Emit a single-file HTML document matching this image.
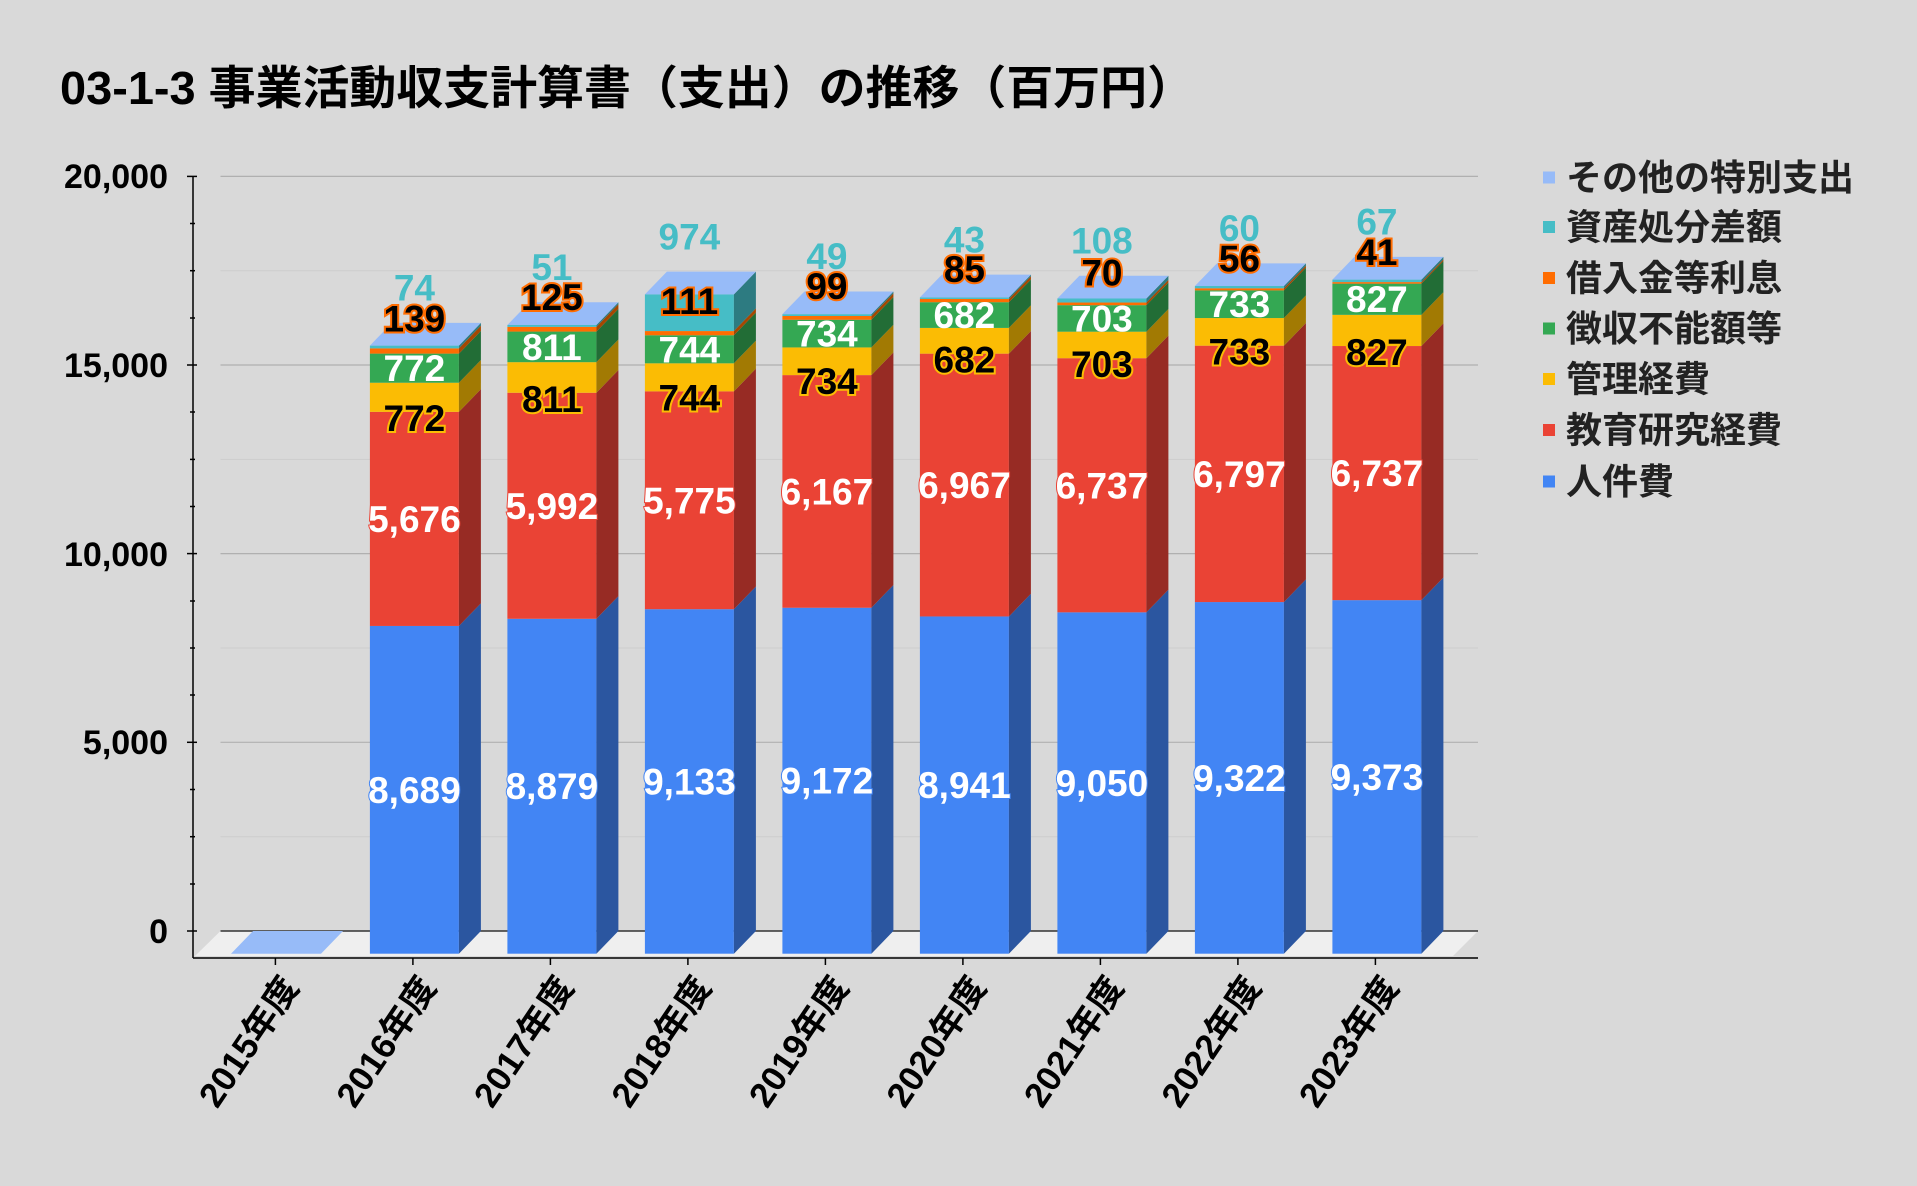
<!DOCTYPE html>
<html><head><meta charset="utf-8"><style>
html,body{margin:0;padding:0;background:#d9d9d9;}
svg{display:block;font-family:"Liberation Sans","Noto Sans CJK JP",sans-serif;font-weight:bold;}
.v{font-size:37px;text-anchor:middle;}
.w{fill:#fff;}
.bl{fill:#fff;stroke:#4285f4;stroke-width:2;paint-order:stroke;}
.rd{fill:#fff;stroke:#ea4335;stroke-width:2;paint-order:stroke;}
.yl{fill:#000;stroke:#fbbc04;stroke-width:4;paint-order:stroke;}
.or{fill:#000;stroke:#ff6d01;stroke-width:4;paint-order:stroke;}
.tl{fill:#46bdc6;}
.yx{font-size:34px;text-anchor:end;fill:#000;}
.xl{font-size:35px;text-anchor:end;fill:#000;}
.lg{font-size:36px;fill:#222;font-family:"Liberation Sans","Noto Sans CJK JP",sans-serif;}
</style></head><body>
<svg width="1917" height="1186" viewBox="0 0 1917 1186" xmlns="http://www.w3.org/2000/svg">
<text x="60" y="104" font-size="46" fill="#000" textLength="1134" lengthAdjust="spacingAndGlyphs">03-1-3 事業活動収支計算書（支出）の推移（百万円）</text>

<polygon points="195,956 220.5,931 1478,931 1453,956" fill="#efefef"/>
<g stroke="#cdcdcd" stroke-width="1">
<line x1="220.5" y1="836.7" x2="1478" y2="836.7"/><line x1="220.5" y1="648" x2="1478" y2="648"/>
<line x1="220.5" y1="459.4" x2="1478" y2="459.4"/><line x1="220.5" y1="270.7" x2="1478" y2="270.7"/>
</g>
<g stroke="#b0b0b0" stroke-width="1.2">
<line x1="220.5" y1="176.4" x2="1478" y2="176.4"/><line x1="220.5" y1="365" x2="1478" y2="365"/>
<line x1="220.5" y1="553.6" x2="1478" y2="553.6"/><line x1="220.5" y1="742.3" x2="1478" y2="742.3"/>
</g>
<line x1="220.5" y1="931" x2="1478" y2="931" stroke="#333" stroke-width="1.5"/>
<g stroke="#000" stroke-width="1.5">
<line x1="193" y1="176" x2="193" y2="958"/>
<line x1="187" y1="176.4" x2="197" y2="176.4"/><line x1="187" y1="365" x2="197" y2="365"/>
<line x1="187" y1="553.6" x2="197" y2="553.6"/><line x1="187" y1="742.3" x2="197" y2="742.3"/>
<line x1="187" y1="931" x2="197" y2="931"/>
<line x1="190" y1="270.7" x2="195" y2="270.7"/><line x1="190" y1="459.4" x2="195" y2="459.4"/>
<line x1="190" y1="648" x2="195" y2="648"/><line x1="190" y1="836.7" x2="195" y2="836.7"/>
<line x1="190" y1="223.5" x2="195" y2="223.5"/><line x1="190" y1="318" x2="195" y2="318"/>
<line x1="190" y1="412" x2="195" y2="412"/><line x1="190" y1="506.5" x2="195" y2="506.5"/>
<line x1="190" y1="601" x2="195" y2="601"/><line x1="190" y1="695" x2="195" y2="695"/>
<line x1="190" y1="789.5" x2="195" y2="789.5"/><line x1="190" y1="884" x2="195" y2="884"/>
<line x1="193" y1="958" x2="1478" y2="958"/>
<line x1="275.4" y1="958" x2="275.4" y2="965"/><line x1="412.9" y1="958" x2="412.9" y2="965"/>
<line x1="550.4" y1="958" x2="550.4" y2="965"/><line x1="687.9" y1="958" x2="687.9" y2="965"/>
<line x1="825.4" y1="958" x2="825.4" y2="965"/><line x1="962.9" y1="958" x2="962.9" y2="965"/>
<line x1="1100.4" y1="958" x2="1100.4" y2="965"/><line x1="1237.9" y1="958" x2="1237.9" y2="965"/>
<line x1="1375.4" y1="958" x2="1375.4" y2="965"/>
</g>
<text class="yx" x="168" y="188">20,000</text>
<text class="yx" x="168" y="377">15,000</text>
<text class="yx" x="168" y="566">10,000</text>
<text class="yx" x="168" y="754">5,000</text>
<text class="yx" x="168" y="943">0</text>

<polygon points="231,953.7 321,953.7 343,931 253,931" fill="#97bbf8"/>

<g transform="translate(369.9,953.7)">
<rect x="0" y="-327.75" width="89" height="327.75" fill="#4285f4"/><polygon points="89,0 111,-22.7 111,-350.45 89,-327.75" fill="#2b56a0"/>
<rect x="0" y="-541.85" width="89" height="214.1" fill="#ea4335"/><polygon points="89,-327.75 111,-350.45 111,-564.55 89,-541.85" fill="#972b24"/>
<rect x="0" y="-570.97" width="89" height="29.12" fill="#fbbc04"/><polygon points="89,-541.85 111,-564.55 111,-593.67 89,-570.97" fill="#a27a03"/>
<rect x="0" y="-600.09" width="89" height="29.12" fill="#34a853"/><polygon points="89,-570.97 111,-593.67 111,-622.79 89,-600.09" fill="#226d36"/>
<rect x="0" y="-605.33" width="89" height="5.24" fill="#ff6d01"/><polygon points="89,-600.09 111,-622.79 111,-628.03 89,-605.33" fill="#a54701"/>
<rect x="0" y="-608.12" width="89" height="2.79" fill="#46bdc6"/><polygon points="89,-605.33 111,-628.03 111,-630.82 89,-608.12" fill="#2d7b81"/>
<polygon points="0,-608.12 89,-608.12 111,-630.82 22,-630.82" fill="#97bbf8"/>
<text class="v bl" x="44.5" y="-150.9">8,689</text><text class="v rd" x="44.5" y="-421.8">5,676</text>
<text class="v yl" x="44.5" y="-522.9">772</text><text class="v w" x="44.5" y="-572.5">772</text>
<text class="v or" x="44.5" y="-622.3">139</text><text class="v tl" x="44.5" y="-653.1">74</text>
</g>
<g transform="translate(507.4,953.7)">
<rect x="0" y="-334.92" width="89" height="334.92" fill="#4285f4"/><polygon points="89,0 111,-22.7 111,-357.62 89,-334.92" fill="#2b56a0"/>
<rect x="0" y="-560.94" width="89" height="226.02" fill="#ea4335"/><polygon points="89,-334.92 111,-357.62 111,-583.64 89,-560.94" fill="#972b24"/>
<rect x="0" y="-591.53" width="89" height="30.59" fill="#fbbc04"/><polygon points="89,-560.94 111,-583.64 111,-614.23 89,-591.53" fill="#a27a03"/>
<rect x="0" y="-622.12" width="89" height="30.59" fill="#34a853"/><polygon points="89,-591.53 111,-614.23 111,-644.82 89,-622.12" fill="#226d36"/>
<rect x="0" y="-626.84" width="89" height="4.72" fill="#ff6d01"/><polygon points="89,-622.12 111,-644.82 111,-649.54 89,-626.84" fill="#a54701"/>
<rect x="0" y="-628.76" width="89" height="1.92" fill="#46bdc6"/><polygon points="89,-626.84 111,-649.54 111,-651.46 89,-628.76" fill="#2d7b81"/>
<polygon points="0,-628.76 89,-628.76 111,-651.46 22,-651.46" fill="#97bbf8"/>
<text class="v bl" x="44.5" y="-154.5">8,879</text><text class="v rd" x="44.5" y="-434.9">5,992</text>
<text class="v yl" x="44.5" y="-541.9">811</text><text class="v w" x="44.5" y="-593.8">811</text>
<text class="v or" x="44.5" y="-643.8">125</text><text class="v tl" x="44.5" y="-673.8">51</text>
</g>
<g transform="translate(644.9,953.7)">
<rect x="0" y="-344.5" width="89" height="344.5" fill="#4285f4"/><polygon points="89,0 111,-22.7 111,-367.2 89,-344.5" fill="#2b56a0"/>
<rect x="0" y="-562.33" width="89" height="217.83" fill="#ea4335"/><polygon points="89,-344.5 111,-367.2 111,-585.03 89,-562.33" fill="#972b24"/>
<rect x="0" y="-590.39" width="89" height="28.06" fill="#fbbc04"/><polygon points="89,-562.33 111,-585.03 111,-613.09 89,-590.39" fill="#a27a03"/>
<rect x="0" y="-618.45" width="89" height="28.06" fill="#34a853"/><polygon points="89,-590.39 111,-613.09 111,-641.15 89,-618.45" fill="#226d36"/>
<rect x="0" y="-622.64" width="89" height="4.19" fill="#ff6d01"/><polygon points="89,-618.45 111,-641.15 111,-645.34 89,-622.64" fill="#a54701"/>
<rect x="0" y="-659.38" width="89" height="36.74" fill="#46bdc6"/><polygon points="89,-622.64 111,-645.34 111,-682.08 89,-659.38" fill="#2d7b81"/>
<polygon points="0,-659.38 89,-659.38 111,-682.08 22,-682.08" fill="#97bbf8"/>
<text class="v bl" x="44.5" y="-159.3">9,133</text><text class="v rd" x="44.5" y="-440.4">5,775</text>
<text class="v yl" x="44.5" y="-543.3">744</text><text class="v w" x="44.5" y="-591.4">744</text>
<text class="v or" x="44.5" y="-639.6">111</text><text class="v tl" x="44.5" y="-704.4">974</text>
</g>
<g transform="translate(782.4,953.7)">
<rect x="0" y="-345.97" width="89" height="345.97" fill="#4285f4"/><polygon points="89,0 111,-22.7 111,-368.67 89,-345.97" fill="#2b56a0"/>
<rect x="0" y="-578.59" width="89" height="232.62" fill="#ea4335"/><polygon points="89,-345.97 111,-368.67 111,-601.29 89,-578.59" fill="#972b24"/>
<rect x="0" y="-606.28" width="89" height="27.69" fill="#fbbc04"/><polygon points="89,-578.59 111,-601.29 111,-628.98 89,-606.28" fill="#a27a03"/>
<rect x="0" y="-633.97" width="89" height="27.69" fill="#34a853"/><polygon points="89,-606.28 111,-628.98 111,-656.67 89,-633.97" fill="#226d36"/>
<rect x="0" y="-637.7" width="89" height="3.73" fill="#ff6d01"/><polygon points="89,-633.97 111,-656.67 111,-660.4 89,-637.7" fill="#a54701"/>
<rect x="0" y="-639.55" width="89" height="1.85" fill="#46bdc6"/><polygon points="89,-637.7 111,-660.4 111,-662.25 89,-639.55" fill="#2d7b81"/>
<polygon points="0,-639.55 89,-639.55 111,-662.25 22,-662.25" fill="#97bbf8"/>
<text class="v bl" x="44.5" y="-160">9,172</text><text class="v rd" x="44.5" y="-449.3">6,167</text>
<text class="v yl" x="44.5" y="-559.6">734</text><text class="v w" x="44.5" y="-607.1">734</text>
<text class="v or" x="44.5" y="-654.7">99</text><text class="v tl" x="44.5" y="-684.6">49</text>
</g>
<g transform="translate(919.9,953.7)">
<rect x="0" y="-337.25" width="89" height="337.25" fill="#4285f4"/><polygon points="89,0 111,-22.7 111,-359.95 89,-337.25" fill="#2b56a0"/>
<rect x="0" y="-600.05" width="89" height="262.8" fill="#ea4335"/><polygon points="89,-337.25 111,-359.95 111,-622.75 89,-600.05" fill="#972b24"/>
<rect x="0" y="-625.78" width="89" height="25.73" fill="#fbbc04"/><polygon points="89,-600.05 111,-622.75 111,-648.48 89,-625.78" fill="#a27a03"/>
<rect x="0" y="-651.51" width="89" height="25.73" fill="#34a853"/><polygon points="89,-625.78 111,-648.48 111,-674.21 89,-651.51" fill="#226d36"/>
<rect x="0" y="-654.72" width="89" height="3.21" fill="#ff6d01"/><polygon points="89,-651.51 111,-674.21 111,-677.42 89,-654.72" fill="#a54701"/>
<rect x="0" y="-656.34" width="89" height="1.62" fill="#46bdc6"/><polygon points="89,-654.72 111,-677.42 111,-679.04 89,-656.34" fill="#2d7b81"/>
<polygon points="0,-656.34 89,-656.34 111,-679.04 22,-679.04" fill="#97bbf8"/>
<text class="v bl" x="44.5" y="-155.6">8,941</text><text class="v rd" x="44.5" y="-455.7">6,967</text>
<text class="v yl" x="44.5" y="-581.1">682</text><text class="v w" x="44.5" y="-625.6">682</text>
<text class="v or" x="44.5" y="-671.7">85</text><text class="v tl" x="44.5" y="-701.3">43</text>
</g>
<g transform="translate(1057.4,953.7)">
<rect x="0" y="-341.37" width="89" height="341.37" fill="#4285f4"/><polygon points="89,0 111,-22.7 111,-364.07 89,-341.37" fill="#2b56a0"/>
<rect x="0" y="-595.49" width="89" height="254.12" fill="#ea4335"/><polygon points="89,-341.37 111,-364.07 111,-618.19 89,-595.49" fill="#972b24"/>
<rect x="0" y="-622.01" width="89" height="26.52" fill="#fbbc04"/><polygon points="89,-595.49 111,-618.19 111,-644.71 89,-622.01" fill="#a27a03"/>
<rect x="0" y="-648.53" width="89" height="26.52" fill="#34a853"/><polygon points="89,-622.01 111,-644.71 111,-671.23 89,-648.53" fill="#226d36"/>
<rect x="0" y="-651.17" width="89" height="2.64" fill="#ff6d01"/><polygon points="89,-648.53 111,-671.23 111,-673.87 89,-651.17" fill="#a54701"/>
<rect x="0" y="-655.24" width="89" height="4.07" fill="#46bdc6"/><polygon points="89,-651.17 111,-673.87 111,-677.94 89,-655.24" fill="#2d7b81"/>
<polygon points="0,-655.24 89,-655.24 111,-677.94 22,-677.94" fill="#97bbf8"/>
<text class="v bl" x="44.5" y="-157.7">9,050</text><text class="v rd" x="44.5" y="-455.4">6,737</text>
<text class="v yl" x="44.5" y="-576.5">703</text><text class="v w" x="44.5" y="-622.3">703</text>
<text class="v or" x="44.5" y="-668.2">70</text><text class="v tl" x="44.5" y="-700.2">108</text>
</g>
<g transform="translate(1194.9,953.7)">
<rect x="0" y="-351.63" width="89" height="351.63" fill="#4285f4"/><polygon points="89,0 111,-22.7 111,-374.33 89,-351.63" fill="#2b56a0"/>
<rect x="0" y="-608.01" width="89" height="256.38" fill="#ea4335"/><polygon points="89,-351.63 111,-374.33 111,-630.71 89,-608.01" fill="#972b24"/>
<rect x="0" y="-635.66" width="89" height="27.65" fill="#fbbc04"/><polygon points="89,-608.01 111,-630.71 111,-658.36 89,-635.66" fill="#a27a03"/>
<rect x="0" y="-663.31" width="89" height="27.65" fill="#34a853"/><polygon points="89,-635.66 111,-658.36 111,-686.01 89,-663.31" fill="#226d36"/>
<rect x="0" y="-665.42" width="89" height="2.11" fill="#ff6d01"/><polygon points="89,-663.31 111,-686.01 111,-688.12 89,-665.42" fill="#a54701"/>
<rect x="0" y="-667.68" width="89" height="2.26" fill="#46bdc6"/><polygon points="89,-665.42 111,-688.12 111,-690.38 89,-667.68" fill="#2d7b81"/>
<polygon points="0,-667.68 89,-667.68 111,-690.38 22,-690.38" fill="#97bbf8"/>
<text class="v bl" x="44.5" y="-162.8">9,322</text><text class="v rd" x="44.5" y="-466.8">6,797</text>
<text class="v yl" x="44.5" y="-589">733</text><text class="v w" x="44.5" y="-636.5">733</text>
<text class="v or" x="44.5" y="-682.4">56</text><text class="v tl" x="44.5" y="-712.7">60</text>
</g>
<g transform="translate(1332.4,953.7)">
<rect x="0" y="-353.55" width="89" height="353.55" fill="#4285f4"/><polygon points="89,0 111,-22.7 111,-376.25 89,-353.55" fill="#2b56a0"/>
<rect x="0" y="-607.67" width="89" height="254.12" fill="#ea4335"/><polygon points="89,-353.55 111,-376.25 111,-630.37 89,-607.67" fill="#972b24"/>
<rect x="0" y="-638.86" width="89" height="31.19" fill="#fbbc04"/><polygon points="89,-607.67 111,-630.37 111,-661.56 89,-638.86" fill="#a27a03"/>
<rect x="0" y="-670.05" width="89" height="31.19" fill="#34a853"/><polygon points="89,-638.86 111,-661.56 111,-692.75 89,-670.05" fill="#226d36"/>
<rect x="0" y="-671.6" width="89" height="1.55" fill="#ff6d01"/><polygon points="89,-670.05 111,-692.75 111,-694.3 89,-671.6" fill="#a54701"/>
<rect x="0" y="-674.13" width="89" height="2.53" fill="#46bdc6"/><polygon points="89,-671.6 111,-694.3 111,-696.83 89,-674.13" fill="#2d7b81"/>
<polygon points="0,-674.13 89,-674.13 111,-696.83 22,-696.83" fill="#97bbf8"/>
<text class="v bl" x="44.5" y="-163.8">9,373</text><text class="v rd" x="44.5" y="-467.6">6,737</text>
<text class="v yl" x="44.5" y="-588.7">827</text><text class="v w" x="44.5" y="-641.5">827</text>
<text class="v or" x="44.5" y="-688.6">41</text><text class="v tl" x="44.5" y="-719.1">67</text>
</g>

<text class="xl" transform="translate(300,987) rotate(-56)">2015年度</text>
<text class="xl" transform="translate(437.5,987) rotate(-56)">2016年度</text>
<text class="xl" transform="translate(575,987) rotate(-56)">2017年度</text>
<text class="xl" transform="translate(712.5,987) rotate(-56)">2018年度</text>
<text class="xl" transform="translate(850,987) rotate(-56)">2019年度</text>
<text class="xl" transform="translate(987.5,987) rotate(-56)">2020年度</text>
<text class="xl" transform="translate(1125,987) rotate(-56)">2021年度</text>
<text class="xl" transform="translate(1262.5,987) rotate(-56)">2022年度</text>
<text class="xl" transform="translate(1400,987) rotate(-56)">2023年度</text>

<rect x="1543" y="171.5" width="12" height="12" fill="#97bbf8"/><text class="lg" x="1566" y="190">その他の特別支出</text>
<rect x="1543" y="221" width="12" height="12" fill="#46bdc6"/><text class="lg" x="1566" y="239.5">資産処分差額</text>
<rect x="1543" y="272" width="12" height="12" fill="#ff6d01"/><text class="lg" x="1566" y="290.5">借入金等利息</text>
<rect x="1543" y="322.5" width="12" height="12" fill="#34a853"/><text class="lg" x="1566" y="341">徴収不能額等</text>
<rect x="1543" y="373" width="12" height="12" fill="#fbbc04"/><text class="lg" x="1566" y="391.5">管理経費</text>
<rect x="1543" y="424" width="12" height="12" fill="#ea4335"/><text class="lg" x="1566" y="442.5">教育研究経費</text>
<rect x="1543" y="475.5" width="12" height="12" fill="#4285f4"/><text class="lg" x="1566" y="494">人件費</text>
</svg>
</body></html>
